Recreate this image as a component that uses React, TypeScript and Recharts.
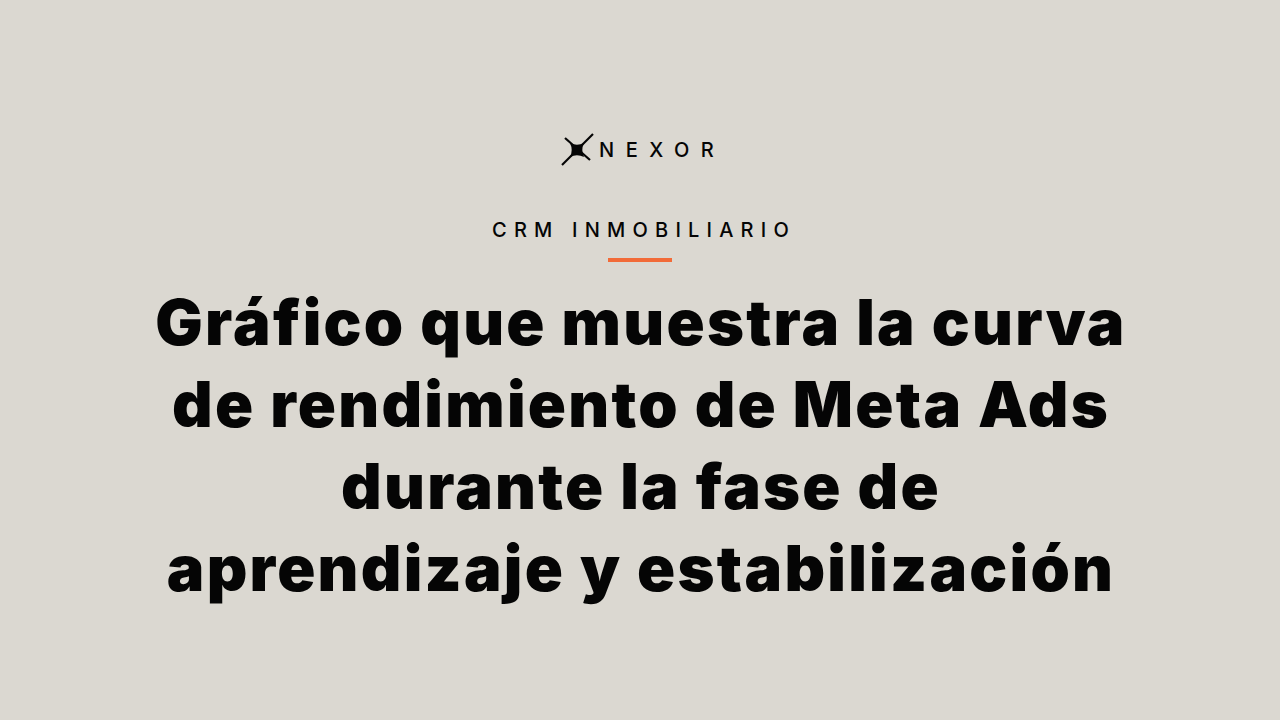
import { Surface, Layer, Text } from "recharts"

// brand + headline content
const brandName = ["NEXOR"]
const categoryLabel = ["CRM INMOBILIARIO"]
const titleLines = [
    "Gráfico que muestra la curva",
    "de rendimiento de Meta Ads",
    "durante la fase de",
    "aprendizaje y estabilización",
]

const W = 1280
const H = 720
const BG = "#dbd8d1"
const ACCENT = "#f26b38"
const INK = "#050505"

function Logo({ cx, cy }: { cx: number; cy: number }) {
    // X mark with a concave four-point star in the middle
    const r = 10
    const k = 2.5
    const star = `M${cx} ${cy - r} Q${cx + k} ${cy - k} ${cx + r} ${cy} Q${cx + k} ${cy + k} ${cx} ${cy + r} Q${cx - k} ${cy + k} ${cx - r} ${cy} Q${cx - k} ${cy - k} ${cx} ${cy - r} Z`
    return (
        <Layer>
            <line x1={cx - 12} y1={cy - 12} x2={cx + 13} y2={cy + 10} stroke={INK} strokeWidth={2.2} />
            <line x1={cx - 15} y1={cy + 15} x2={cx + 16} y2={cy - 16} stroke={INK} strokeWidth={2.2} />
            <path d={star} fill={INK} transform={`rotate(45 ${cx} ${cy})`} />
        </Layer>
    )
}

export default function App() {
    return (
        <div style={{ position: "absolute", left: 0, top: 0, width: W, height: H, background: BG }}>
            <Surface width={W} height={H}>
                <rect x={0} y={0} width={W} height={H} fill={BG} />
                <Logo cx={577} cy={150} />
                {brandName.map(t => (
                    <Text
                        key={t}
                        x={599}
                        y={157}
                        fontSize={20}
                        fontWeight={500}
                        letterSpacing={11.5}
                        fill={INK}
                        style={{ fontFamily: "Inter" }}
                    >
                        {t}
                    </Text>
                ))}
                {categoryLabel.map(t => (
                    <Text
                        key={t}
                        x={644}
                        y={237}
                        textAnchor="middle"
                        fontSize={20}
                        fontWeight={500}
                        letterSpacing={7.2}
                        fill={INK}
                        style={{ fontFamily: "Inter" }}
                    >
                        {t}
                    </Text>
                ))}
                <rect x={608} y={258} width={64} height={4} fill={ACCENT} />
                {titleLines.map((line, i) => (
                    <Text
                        key={line}
                        x={641}
                        y={345 + i * 82}
                        textAnchor="middle"
                        fontSize={63}
                        fontWeight={900}
                        letterSpacing={2.25}
                        fill={INK}
                        style={{ fontFamily: "Inter" }}
                    >
                        {line}
                    </Text>
                ))}
            </Surface>
        </div>
    )
}
